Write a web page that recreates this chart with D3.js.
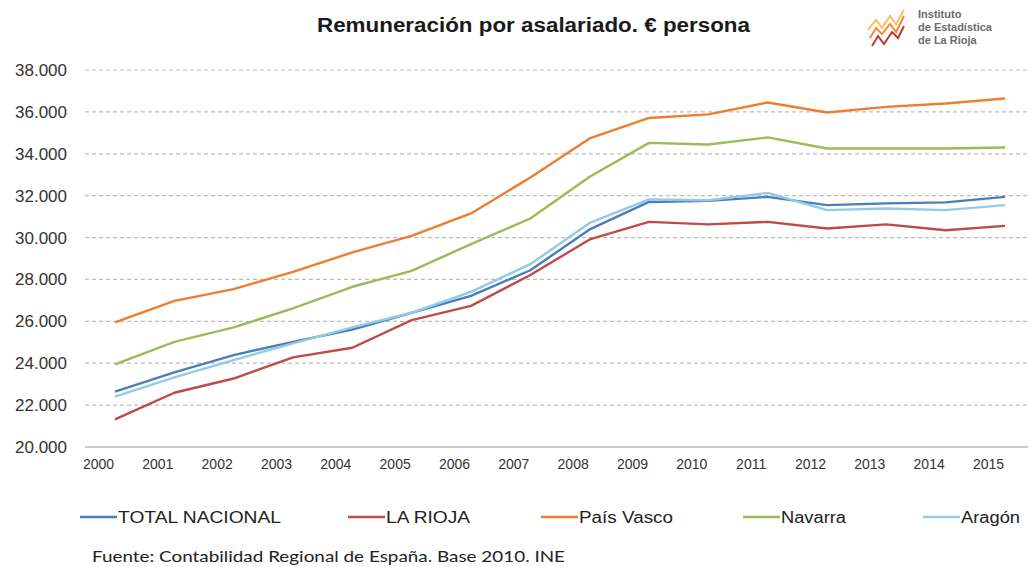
<!DOCTYPE html>
<html>
<head>
<meta charset="utf-8">
<script src="https://cdn.jsdelivr.net/npm/d3@7"></script>
<style>
  body { margin: 0; background: #fff; }
  svg { display: block; font-family: "Liberation Sans", Arial, sans-serif; }
</style>
</head>
<body>
<div class="chart"></div>
<script>
// data (euros per employee)
var years = [2000, 2001, 2002, 2003, 2004, 2005, 2006, 2007, 2008, 2009, 2010, 2011, 2012, 2013, 2014, 2015];
var totalNacional = [22640, 23560, 24390, 25020, 25610, 26410, 27220, 28440, 30390, 31700, 31750, 31940, 31550, 31630, 31680, 31940];
var laRioja = [21320, 22590, 23270, 24280, 24740, 26060, 26740, 28210, 29910, 30750, 30630, 30750, 30430, 30630, 30350, 30560];
var paisVasco = [25950, 26980, 27540, 28360, 29290, 30080, 31150, 32870, 34730, 35710, 35880, 36450, 35970, 36240, 36400, 36640];
var navarra = [23940, 25020, 25710, 26620, 27650, 28410, 29690, 30910, 32900, 34520, 34440, 34780, 34250, 34250, 34250, 34300];
var aragon = [22400, 23320, 24150, 24950, 25710, 26410, 27410, 28730, 30700, 31820, 31780, 32130, 31310, 31390, 31310, 31550];
var yTicks = [20000, 22000, 24000, 26000, 28000, 30000, 32000, 34000, 36000, 38000];
var seriesNames = ["TOTAL NACIONAL", "LA RIOJA", "País Vasco", "Navarra", "Aragón"];

var colors = ["#4a7ebb", "#be4b48", "#ef7d2f", "#9bbb59", "#93cbe6"];
var series = [totalNacional, laRioja, paisVasco, navarra, aragon];

var width = 1029, height = 567;

var svg = d3.select(".chart")
    .append("svg")
    .attr("width", width)
    .attr("height", height);

// scales
var x = d3.scaleLinear()
    .domain([2000, 2015])
    .range([115, 1005]);
var y = d3.scaleLinear()
    .domain([20000, 38000])
    .range([447, 70]);

var loc = d3.formatLocale({ decimal: ",", thousands: ".", grouping: [3], currency: ["", "€"] });
var fmt = loc.format(",.0f");

// title (the original text is a bit stretched)
svg.append("text")
    .attr("x", 317)
    .attr("y", 32)
    .attr("textLength", 433)
    .attr("lengthAdjust", "spacingAndGlyphs")
    .style("font-weight", "bold")
    .style("font-size", "20px")
    .style("fill", "#1a1a1a")
    .text("Remuneración por asalariado. € persona");

// logo
var logo = svg.append("g").attr("transform", "translate(866,8)");
logo.append("path")
    .attr("d", "M2,22 L10,12 L16,20 L24,8 L30,16 L38,2")
    .attr("fill", "none").attr("stroke", "#f6c25a").attr("stroke-width", 2);
logo.append("path")
    .attr("d", "M4,30 L10,20 L16,26 L24,16 L30,24 L38,8")
    .attr("fill", "none").attr("stroke", "#ee8a3a").attr("stroke-width", 2);
logo.append("path")
    .attr("d", "M6,38 L12,28 L18,36 L26,24 L32,30 L38,18")
    .attr("fill", "none").attr("stroke", "#c0392b").attr("stroke-width", 2);
["Instituto", "de Estadística", "de La Rioja"].forEach(function (t, i) {
    logo.append("text")
        .attr("x", 52)
        .attr("y", 10 + i * 13)
        .style("font-size", "11px")
        .style("font-weight", "bold")
        .style("fill", "#6b6b6b")
        .text(t);
});

// gridlines
svg.append("g")
    .selectAll("line")
    .data(yTicks)
    .enter()
    .append("line")
    .attr("x1", 85)
    .attr("x2", 1028)
    .attr("y1", function (d) { return y(d); })
    .attr("y2", function (d) { return y(d); })
    .attr("stroke", function (d) { return d === 20000 ? "#9a9a9a" : "#bdbdbd"; })
    .attr("stroke-width", 1.2)
    .attr("stroke-dasharray", function (d) { return d === 20000 ? null : "4,3"; });

// y axis labels
var yAxis = svg.append("g")
    .attr("transform", "translate(67,0)")
    .call(d3.axisLeft(y).tickValues(yTicks).tickFormat(fmt).tickSize(0));
yAxis.select(".domain").remove();
yAxis.selectAll("text")
    .attr("x", 0)
    .style("font-size", "17px")
    .style("font-family", "Liberation Sans, Arial, sans-serif")
    .style("fill", "#333");

// x axis labels (sit a bit left of the points, as in the original)
var xAxis = svg.append("g")
    .attr("transform", "translate(0,456)")
    .call(d3.axisBottom(x).tickValues(years).tickFormat(d3.format("d")).tickSize(0));
xAxis.select(".domain").remove();
xAxis.selectAll("text")
    .attr("dx", -17)
    .attr("y", 3)
    .style("font-size", "14px")
    .style("font-family", "Liberation Sans, Arial, sans-serif")
    .style("fill", "#333");

// lines
var line = d3.line()
    .x(function (d, i) { return x(years[i]); })
    .y(function (d) { return y(d); });

svg.append("g")
    .selectAll("path")
    .data(series)
    .enter()
    .append("path")
    .attr("d", line)
    .attr("fill", "none")
    .attr("stroke", function (d, i) { return colors[i]; })
    .attr("stroke-width", 2.4)
    .attr("stroke-linejoin", "round");

// legend
var legendX = [80, 348, 541, 743, 923];
var legendW = [163, 84, 94, 65, 59];
var legend = svg.append("g")
    .selectAll("g")
    .data(seriesNames)
    .enter()
    .append("g")
    .attr("transform", function (d, i) { return "translate(" + legendX[i] + ",517)"; });
legend.append("line")
    .attr("x1", 0).attr("x2", 37)
    .attr("stroke", function (d, i) { return colors[i]; })
    .attr("stroke-width", 2.4);
legend.append("text")
    .attr("x", 38)
    .attr("y", 6)
    .attr("textLength", function (d, i) { return legendW[i]; })
    .attr("lengthAdjust", "spacingAndGlyphs")
    .style("font-size", "16px")
    .style("fill", "#222")
    .text(function (d) { return d; });

// source
svg.append("text")
    .attr("x", 92)
    .attr("y", 562)
    .attr("textLength", 473)
    .attr("lengthAdjust", "spacingAndGlyphs")
    .style("font-family", "Lato, sans-serif")
    .style("font-size", "16px")
    .style("fill", "#222")
    .text("Fuente: Contabilidad Regional de España. Base 2010. INE");
</script>
</body>
</html>
